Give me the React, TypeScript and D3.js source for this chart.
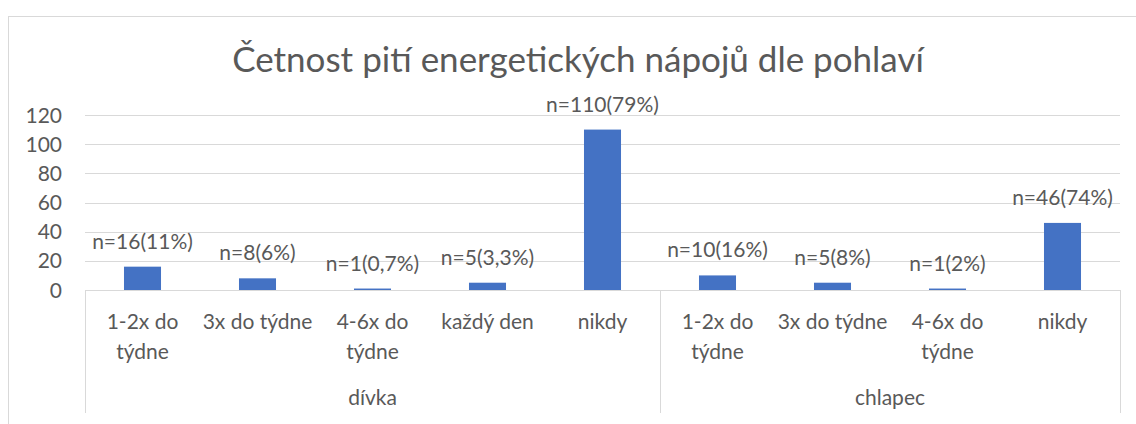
import React from "react";
import * as d3 from "d3";

const title = "Četnost pití energetických nápojů dle pohlaví";
const groups = ["dívka", "chlapec"];
const divkaCategories = ["1-2x do týdne", "3x do týdne", "4-6x do týdne", "každý den", "nikdy"];
const divkaValues = [16, 8, 1, 5, 110];
const divkaLabels = ["n=16(11%)", "n=8(6%)", "n=1(0,7%)", "n=5(3,3%)", "n=110(79%)"];
const chlapecCategories = ["1-2x do týdne", "3x do týdne", "4-6x do týdne", "nikdy"];
const chlapecValues = [10, 5, 1, 46];
const chlapecLabels = ["n=10(16%)", "n=5(8%)", "n=1(2%)", "n=46(74%)"];
const yTicks = [0, 20, 40, 60, 80, 100, 120];

// wrapped lines of category labels as Excel shows them
const wrapMap: Record<string, string[]> = {
  "1-2x do týdne": ["1-2x do", "týdne"],
  "3x do týdne": ["3x do týdne"],
  "4-6x do týdne": ["4-6x do", "týdne"],
  "každý den": ["každý den"],
  "nikdy": ["nikdy"],
};

const W = 1136;
const H = 424;
const FONT = "Lato, 'Open Sans', sans-serif";
const TXT = "#595959";
const GRID = "#d9d9d9";
const BAR = "#4472C4";

type Row = { id: string; group: string; cat: string; value: number; label: string };

const rows: Row[] = [
  ...divkaCategories.map((c, i) => ({ id: `d${i}`, group: groups[0], cat: c, value: divkaValues[i], label: divkaLabels[i] })),
  ...chlapecCategories.map((c, i) => ({ id: `c${i}`, group: groups[1], cat: c, value: chlapecValues[i], label: chlapecLabels[i] })),
];

export default function App() {
  const left = 85, right = 1120, top = 115, bottom = 290;
  const x = d3.scaleBand<string>().domain(rows.map((r) => r.id)).range([left, right]).paddingInner(0.678).paddingOuter(0.339);
  const y = d3.scaleLinear().domain([0, 120]).range([bottom, top]);
  const step = x.step();
  const half = (step - x.bandwidth()) / 2;
  const groupRanges = groups.map((g) => {
    const ids = rows.filter((r) => r.group === g).map((r) => r.id);
    const start = x(ids[0])! - half;
    const end = x(ids[ids.length - 1])! + x.bandwidth() + half;
    return { g, start, end };
  });
  const lineBottom = 413;

  return (
    <svg width={W} height={H} style={{ position: "absolute", left: 0, top: 0, background: "#fff" }} fontFamily={FONT}>
      <rect x={8.5} y={16.5} width={1150} height={430} fill="#fff" stroke={GRID} strokeWidth={1} />
      <text x={578} y={72} textAnchor="middle" fontSize={35} fill={TXT}>{title}</text>
      {yTicks.map((t) => (
        <g key={t}>
          {t > 0 && <line x1={left} x2={right} y1={Math.round(y(t)) + 0.5} y2={Math.round(y(t)) + 0.5} stroke={GRID} strokeWidth={1} />}
          <text x={62} y={y(t) + 7.5} textAnchor="end" fontSize={21} fill={TXT}>{t}</text>
        </g>
      ))}
      {rows.map((r) => (
        <g key={r.id}>
          <rect x={x(r.id)} y={y(r.value)} width={x.bandwidth()} height={bottom - y(r.value)} fill={BAR} />
          <text x={x(r.id)! + x.bandwidth() / 2} y={y(r.value) - 18} textAnchor="middle" fontSize={21} fill={TXT}>{r.label}</text>
          {(wrapMap[r.cat] || [r.cat]).map((ln, i) => (
            <text key={i} x={x(r.id)! + x.bandwidth() / 2} y={329 + i * 30} textAnchor="middle" fontSize={21} fill={TXT}>{ln}</text>
          ))}
        </g>
      ))}
      <line x1={left} x2={right} y1={bottom + 0.5} y2={bottom + 0.5} stroke={GRID} strokeWidth={1} />
      {[groupRanges[0].start, groupRanges[0].end, groupRanges[1].end].map((v, i) => (
        <line key={i} x1={Math.round(v) + 0.5} x2={Math.round(v) + 0.5} y1={bottom} y2={lineBottom} stroke={GRID} strokeWidth={1} />
      ))}
      {groupRanges.map((gr) => (
        <text key={gr.g} x={(gr.start + gr.end) / 2} y={405} textAnchor="middle" fontSize={21} fill={TXT}>{gr.g}</text>
      ))}
    </svg>
  );
}
